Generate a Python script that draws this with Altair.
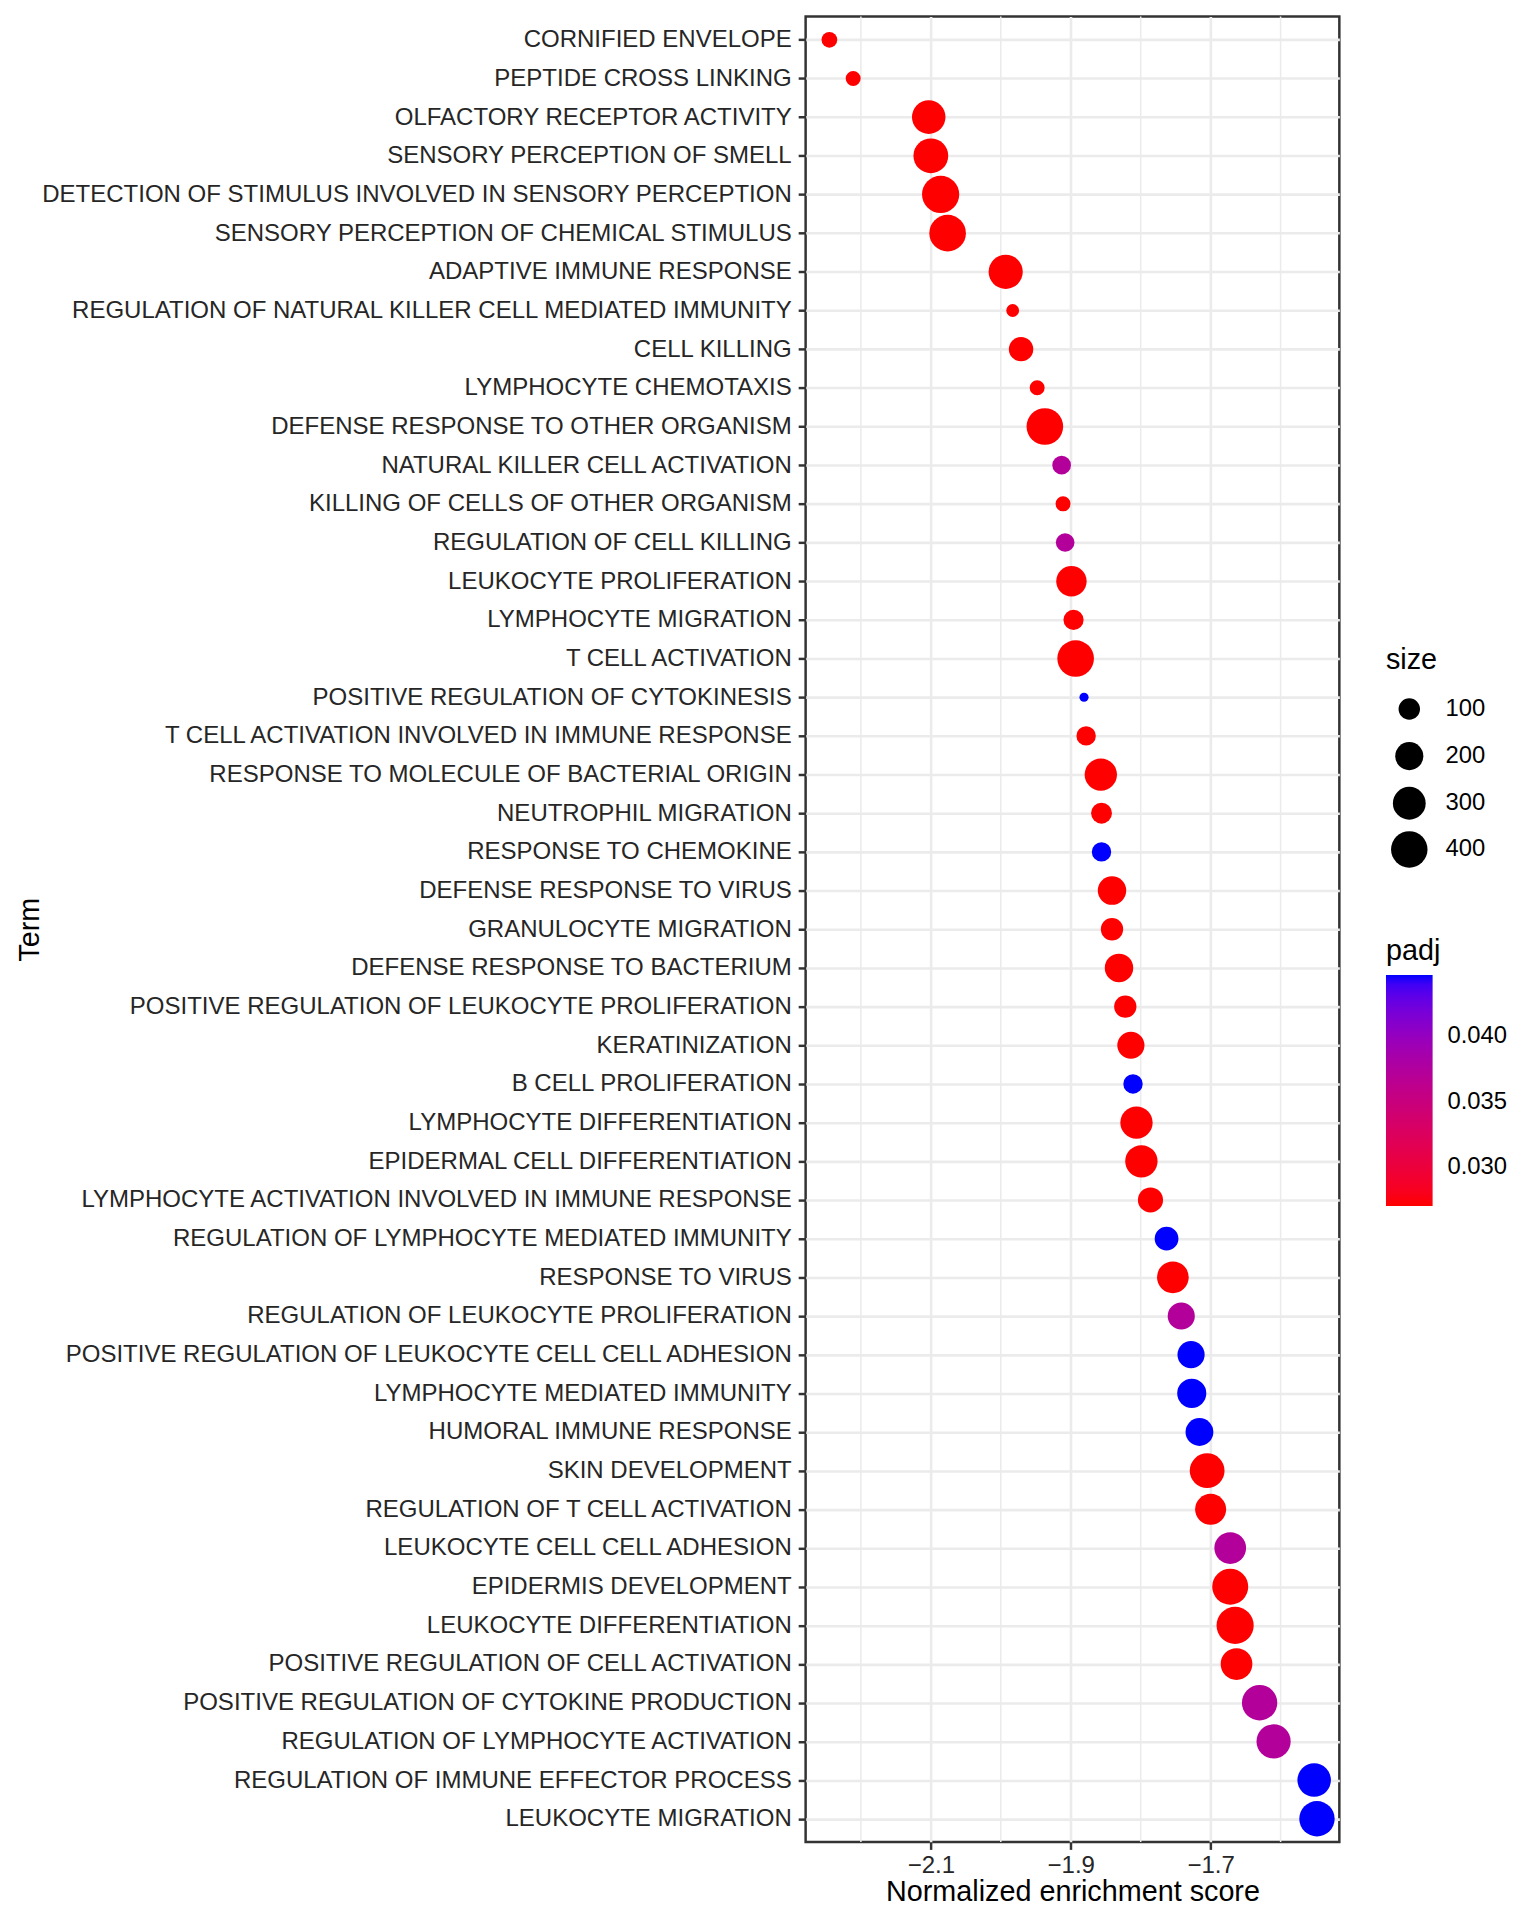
import altair as alt
import pandas as pd

terms = [
    "CORNIFIED ENVELOPE",
    "PEPTIDE CROSS LINKING",
    "OLFACTORY RECEPTOR ACTIVITY",
    "SENSORY PERCEPTION OF SMELL",
    "DETECTION OF STIMULUS INVOLVED IN SENSORY PERCEPTION",
    "SENSORY PERCEPTION OF CHEMICAL STIMULUS",
    "ADAPTIVE IMMUNE RESPONSE",
    "REGULATION OF NATURAL KILLER CELL MEDIATED IMMUNITY",
    "CELL KILLING",
    "LYMPHOCYTE CHEMOTAXIS",
    "DEFENSE RESPONSE TO OTHER ORGANISM",
    "NATURAL KILLER CELL ACTIVATION",
    "KILLING OF CELLS OF OTHER ORGANISM",
    "REGULATION OF CELL KILLING",
    "LEUKOCYTE PROLIFERATION",
    "LYMPHOCYTE MIGRATION",
    "T CELL ACTIVATION",
    "POSITIVE REGULATION OF CYTOKINESIS",
    "T CELL ACTIVATION INVOLVED IN IMMUNE RESPONSE",
    "RESPONSE TO MOLECULE OF BACTERIAL ORIGIN",
    "NEUTROPHIL MIGRATION",
    "RESPONSE TO CHEMOKINE",
    "DEFENSE RESPONSE TO VIRUS",
    "GRANULOCYTE MIGRATION",
    "DEFENSE RESPONSE TO BACTERIUM",
    "POSITIVE REGULATION OF LEUKOCYTE PROLIFERATION",
    "KERATINIZATION",
    "B CELL PROLIFERATION",
    "LYMPHOCYTE DIFFERENTIATION",
    "EPIDERMAL CELL DIFFERENTIATION",
    "LYMPHOCYTE ACTIVATION INVOLVED IN IMMUNE RESPONSE",
    "REGULATION OF LYMPHOCYTE MEDIATED IMMUNITY",
    "RESPONSE TO VIRUS",
    "REGULATION OF LEUKOCYTE PROLIFERATION",
    "POSITIVE REGULATION OF LEUKOCYTE CELL CELL ADHESION",
    "LYMPHOCYTE MEDIATED IMMUNITY",
    "HUMORAL IMMUNE RESPONSE",
    "SKIN DEVELOPMENT",
    "REGULATION OF T CELL ACTIVATION",
    "LEUKOCYTE CELL CELL ADHESION",
    "EPIDERMIS DEVELOPMENT",
    "LEUKOCYTE DIFFERENTIATION",
    "POSITIVE REGULATION OF CELL ACTIVATION",
    "POSITIVE REGULATION OF CYTOKINE PRODUCTION",
    "REGULATION OF LYMPHOCYTE ACTIVATION",
    "REGULATION OF IMMUNE EFFECTOR PROCESS",
    "LEUKOCYTE MIGRATION",
]

nes = [
    -2.245, -2.211, -2.103, -2.100, -2.086, -2.076, -1.993, -1.983, -1.971, -1.948,
    -1.937, -1.913, -1.911, -1.908, -1.899, -1.896, -1.893, -1.881, -1.878, -1.857,
    -1.856, -1.856, -1.841, -1.841, -1.831, -1.822, -1.814, -1.811, -1.806, -1.799,
    -1.786, -1.763, -1.754, -1.742, -1.728, -1.727, -1.716, -1.705, -1.700, -1.672,
    -1.672, -1.665, -1.663, -1.630, -1.610, -1.552, -1.548,
]

set_size = [
    48, 43, 319, 352, 422, 404, 335, 31, 138, 43,
    404, 71, 43, 71, 245, 86, 404, 17, 78, 289,
    93, 78, 206, 110, 206, 110, 182, 78, 289, 289,
    149, 129, 274, 182, 182, 219, 194, 352, 259, 274,
    386, 420, 274, 369, 335, 319, 369,
]

padj = [
    0.0270, 0.0270, 0.0270, 0.0270, 0.0270, 0.0270, 0.0270, 0.0270, 0.0270, 0.0270,
    0.0270, 0.0372, 0.0270, 0.0372, 0.0270, 0.0270, 0.0270, 0.0447, 0.0270, 0.0270,
    0.0270, 0.0447, 0.0270, 0.0270, 0.0270, 0.0270, 0.0270, 0.0447, 0.0270, 0.0270,
    0.0270, 0.0447, 0.0270, 0.0372, 0.0447, 0.0447, 0.0447, 0.0270, 0.0270, 0.0372,
    0.0270, 0.0270, 0.0270, 0.0372, 0.0372, 0.0447, 0.0447,
]

x_major = [-2.1, -1.9, -1.7]
x_minor = [-2.2, -2.0, -1.8, -1.6]
size_legend_values = [100, 200, 300, 400]
padj_legend_values = [0.030, 0.035, 0.040]

df = pd.DataFrame({"Term": terms, "NES": nes, "size": set_size, "padj": padj})
minor_df = pd.DataFrame({"g": x_minor})

FONT = "Liberation Sans"
PLOT_W = 538
PLOT_H = 1840

x_scale = alt.Scale(domain=[-2.279, -1.516], nice=False, zero=False)
x_axis = alt.Axis(
    values=x_major, format=".1f", title="Normalized enrichment score",
    labelPadding=4, titlePadding=0, grid=True, labelFlush=False,
)

minor = alt.Chart(minor_df).mark_rule(color="#EBEBEB", strokeWidth=1.5).encode(
    x=alt.X("g:Q", scale=x_scale, axis=x_axis)
)

points = alt.Chart(df).mark_circle(opacity=1).encode(
    x=alt.X("NES:Q", scale=x_scale, axis=x_axis),
    y=alt.Y(
        "Term:N", sort=None, scale=alt.Scale(padding=0.6),
        axis=alt.Axis(title="Term", labelLimit=1000, labelPadding=7,
                      grid=True, labelOverlap=False,
                      titleX=-773, titleY=PLOT_H / 2, titleAngle=270,
                      titleBaseline="alphabetic", titleAlign="center"),
    ),
    size=alt.Size(
        "size:Q",
        scale=alt.Scale(type="pow", exponent=0.7, domain=[17, 422],
                        range=[85, 1406], zero=False),
        legend=alt.Legend(
            title="size", values=size_legend_values, orient="none",
            legendX=585, legendY=635, symbolFillColor="black",
            symbolStrokeWidth=0, symbolType="circle", symbolOpacity=1,
            titlePadding=22, rowPadding=8, labelOffset=18, symbolOffset=5,
            padding=0, gridAlign="all",
        ),
    ),
    color=alt.Color(
        "padj:Q",
        scale=alt.Scale(domain=[0.0270, 0.0447], range=["#FF0000", "#0000FF"],
                        interpolate="lab"),
        legend=alt.Legend(
            title="padj", values=padj_legend_values, format=".3f",
            orient="none", legendX=585, legendY=928, direction="vertical",
            gradientLength=233, gradientThickness=47, gradientStrokeWidth=0,
            titlePadding=9, labelOffset=15, padding=0,
        ),
    ),
)

chart = (
    alt.layer(minor, points)
    .properties(width=PLOT_W, height=PLOT_H,
                padding={"left": 8, "top": 0, "right": 0, "bottom": 0})
    .configure_view(stroke="#333333", strokeWidth=2.5)
    .configure_axis(
        labelFont=FONT, titleFont=FONT, labelFontSize=24.2, titleFontSize=29,
        labelColor="#262626", titleColor="#000000", titleFontWeight="normal",
        tickColor="#333333", tickWidth=2.5, tickSize=7.5, domain=False,
        gridColor="#EBEBEB", gridWidth=2.6,
    )
    .configure_legend(
        labelFont=FONT, titleFont=FONT, labelFontSize=24, titleFontSize=29,
        labelColor="#000000", titleColor="#000000", titleFontWeight="normal",
    )
)

chart.save("out.html", embed_options={"renderer": "svg", "actions": False})
